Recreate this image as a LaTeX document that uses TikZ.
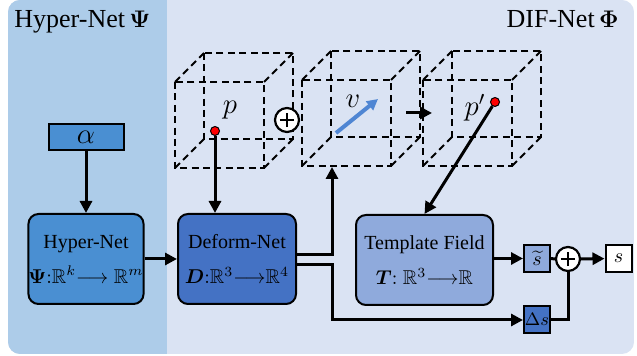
\documentclass[tikz,border=0pt]{standalone}
\usepackage{amsmath}
\usepackage{amssymb}
\usepackage{fontspec}
\setmainfont{Liberation Serif}
\usetikzlibrary{calc, arrows.meta}

\definecolor{hyperbg}{HTML}{ADCCE9}
\definecolor{difbg}{HTML}{DAE3F3}
\definecolor{hypercol}{HTML}{4A8FD2}
\definecolor{deformcol}{HTML}{4472C4}
\definecolor{tmplcol}{HTML}{8FAADC}
\definecolor{vcol}{HTML}{4F86D3}

\tikzset{
  netbox/.style={draw, line width=1pt, rounded corners=5pt, align=center,
    inner sep=0pt, minimum height=45pt, font=\fontsize{10}{17.5}\selectfont},
  smallbox/.style={draw, line width=1pt, minimum width=13pt, minimum height=13.5pt,
    inner sep=0pt, font=\fontsize{10}{12}\selectfont},
  link/.style={line width=1.5pt, -{Triangle[length=6pt,width=6pt]}},
  wire/.style={line width=1.5pt},
  varrow/.style={line width=2pt, vcol, -{Triangle[length=5.5pt,width=5.5pt]}},
  cubeedge/.style={line width=0.9pt, dash pattern=on 3.5pt off 2.2pt},
  reddot/.style={circle, fill=red, draw=black, line width=0.5pt, minimum size=4.5pt, inner sep=0pt},
  ptlabel/.style={inner sep=0pt, font=\fontsize{14}{16}\selectfont},
  oplus/.style={circle, draw, fill=white, line width=1.1pt, minimum size=12pt, inner sep=0pt,
    path picture={\draw[line width=1.4pt]
      ([xshift=-3.6pt]path picture bounding box.center) -- ([xshift=3.6pt]path picture bounding box.center)
      ([yshift=-3.6pt]path picture bounding box.center) -- ([yshift=3.6pt]path picture bounding box.center);}}
}

\begin{document}
\begin{tikzpicture}[x=0.5pt, y=-0.5pt]
\useasboundingbox (0,0) rectangle (637,356);

\begin{scope}
\clip[rounded corners=6pt] (8,0) rectangle (634,354);
\fill[difbg] (8,0) rectangle (634,354);
\fill[hyperbg] (8,0) rectangle (167,354);
\end{scope}

\node[anchor=base west, inner sep=0pt, font=\fontsize{13}{15}\selectfont] (hypertitle) at (14,28) {Hyper-Net\,$\boldsymbol{\Psi}$};
\node[anchor=base east, inner sep=0pt, font=\fontsize{13}{15}\selectfont] (diftitle) at (619,28) {DIF-Net\,$\boldsymbol{\Phi}$};

\foreach \cx/\cy in {175/82, 302/80, 423/80} {
  \draw[cubeedge] (\cx+29,\cy-29) rectangle ++(89,86);
  \draw[cubeedge] (\cx,\cy) -- ++(29,-29) (\cx+89,\cy) -- ++(29,-29)
    (\cx,\cy+86) -- ++(29,-29) (\cx+89,\cy+86) -- ++(29,-29);
  \draw[cubeedge] (\cx,\cy) rectangle ++(89,86);
}

\coordinate (v0) at (336,133);
\coordinate (v1) at (378,99);
\coordinate (m0) at (406,113);
\coordinate (m1) at (432,113);
\coordinate (cubein) at (332,167);
\coordinate (bend) at (332,320);

\node[oplus] (add) at (287,120) {};
\node[reddot] (p) at (215,131) {};
\node[reddot] (pp) at (495,102) {};
\node[ptlabel] (plabel) at (230,110) {$p$};
\node[ptlabel] (vlabel) at (353,101) {$v$};
\node[ptlabel] (pplabel) at (475,108) {$p'$};

\node[draw, line width=1pt, fill=hypercol, minimum width=37.5pt, minimum height=13pt,
  inner sep=0pt, font=\fontsize{14}{16}\selectfont] (alpha) at (86,137) {$\alpha$};
\node[netbox, fill=hypercol, minimum width=57pt] (hyper) at (86,259)
  {Hyper-Net\\$\boldsymbol{\Psi}{:}\mathbb{R}^k{\longrightarrow}\;\mathbb{R}^m$};
\node[netbox, fill=deformcol, minimum width=59pt] (deform) at (237,259)
  {Deform-Net\\$\boldsymbol{D}{:}\mathbb{R}^3{\longrightarrow}\mathbb{R}^4$};
\node[netbox, fill=tmplcol, minimum width=68.5pt] (tmpl) at (424.5,260)
  {Template Field\\$\boldsymbol{T}{:}\;\mathbb{R}^3{\longrightarrow}\mathbb{R}$};

\node[smallbox, fill=tmplcol] (stilde) at (537,258.5) {$\widetilde{s}$};
\node[smallbox, fill=deformcol, font=\fontsize{9.5}{12}\selectfont] (ds) at (537,319.5) {$\Delta s$};
\node[smallbox, fill=white] (sout) at (618.5,258.5) {$s$};
\node[oplus] (sum) at (568,259) {};

\draw[varrow] (v0) -- (v1);
\draw[link] (m0) -- (m1);

\draw[link] (alpha) -- (hyper);
\draw[link] (hyper) -- (deform);
\draw[link] (p.south) -- (p |- deform.north);
\draw[link] ([yshift=2pt]deform.east) -| (cubein);
\draw[link] ([yshift=-3pt]deform.east) -| (bend) -- (bend -| ds.west);
\draw[link] (pp) -- (tmpl.north);
\draw[link] (tmpl.east |- stilde) -- (stilde);
\draw[wire] (stilde) -- (sum);
\draw[wire] (ds) -| (sum);
\draw[link] (sum) -- (sout);
\end{tikzpicture}
\end{document}
